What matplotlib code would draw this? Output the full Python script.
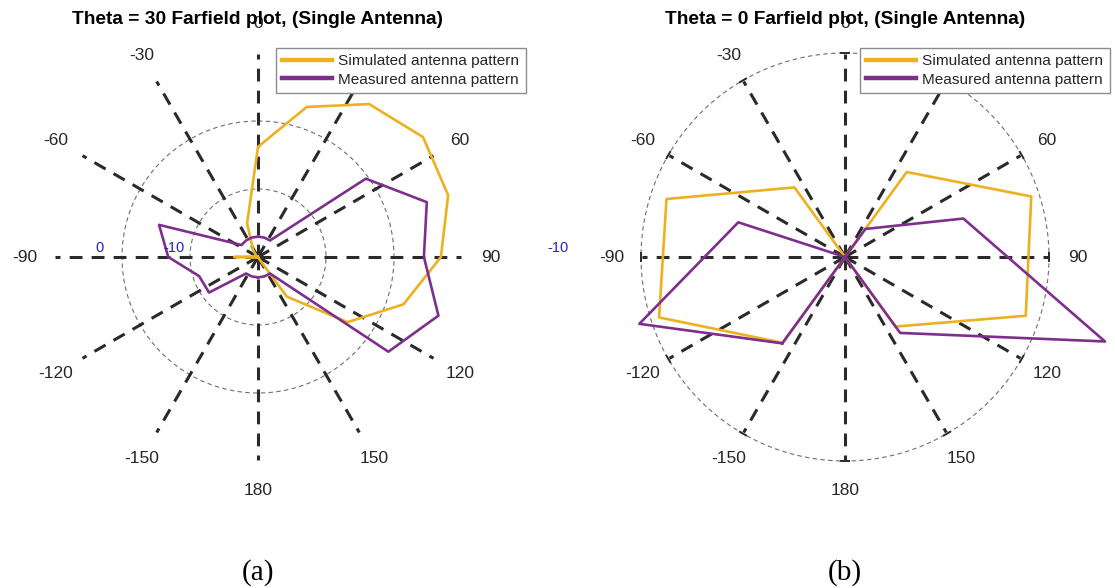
import numpy as np
import matplotlib
matplotlib.use('Agg')
import matplotlib.pyplot as plt

plt.rcParams['font.family'] = ['Liberation Sans', 'DejaVu Sans']

W, H = 1115, 588
R = 204  # px, radius of the plot area (rmax)

# (a) Theta = 30 cut, samples every 18 deg, values in dB
ang_a = [-180, -162, -144, -126, -108, -90, -72, -54, -36, -18,
         0, 18, 36, 54, 72, 90, 108, 126, 144, 162]
sim_a = [-20, -20, -20, -20, -19.7, -16.5, -19.7, -19.7, -18.8, -14.8,
         -3.8, 3.2, 7.8, 10.0, 9.4, 6.9, 2.5, -3.7, -12.8, -19.9]
meas_a = [-17, -17, -17, -11.1, -10.9, -6.8, -4.7, -17, -17, -17,
          -17, -17, -17, -0.4, 6.1, 4.4, 7.9, 3.7, -17, -17]

# (b) Theta = 0 cut, samples every 36 deg
ang_b = [-144, -108, -72, -36, 0, 36, 72, 108, 144, 180]
sim_b = [-4.4, 8.75, 7.6, -7.35, -20, -4.55, 8.8, 7.95, -7.35, -20]
meas_b = [-4.3, 11.8, -3.5, -20, -20, -14.9, -1.7, 20.2, -6.2, -20]

spoke_angles = [0, 30, 60, 90, 120, 150, 180, 210, 240, 270, 300, 330]
# the 30 label sits under the legend in the original, so it is left out
label_angles = [0, 60, 90, 120, 150, 180, 210, 240, 270, 300, 330]
spoke_labels = ['0', '60', '90', '120', '150', '180',
                '-150', '-120', '-90', '-60', '-30']

rmin, rmax = -20, 10
yellow = '#EDB120'
purple = '#7E2F8E'
txt = '#262626'

fig = plt.figure(figsize=(W / 100, H / 100), dpi=100)


def closed(a, v):
    a = np.deg2rad(list(a) + [a[0]])
    return a, list(v) + [v[0]]


def panel(cx, cy, ang, sim, meas, rings, title, leg_x, end_ticks):
    ax = fig.add_axes([(cx - R) / W, (H - cy - R) / H, 2 * R / W, 2 * R / H],
                      projection='polar')
    ax.set_theta_zero_location('N')
    ax.set_theta_direction(-1)
    ax.set_rlim(rmin, rmax)
    ax.set_axis_off()

    full = np.linspace(0, 2 * np.pi, 361)
    for rv in rings:
        ax.plot(full, np.full(full.size, rv), color='#6e6e6e', lw=0.8,
                dashes=(4, 3), clip_on=False)

    for a in spoke_angles:
        t = np.deg2rad(a)
        ax.plot([t, t], [rmin, rmax - 0.2], color='#2a2a2a', lw=2.2,
                dashes=(4.2, 3), clip_on=False)
        if end_ticks:
            d = np.deg2rad(1.0)
            ax.plot([t - d, t + d], [rmax, rmax], color='#2a2a2a', lw=1.4,
                    clip_on=False)

    for a, lab in zip(label_angles, spoke_labels):
        ax.text(np.deg2rad(a), 14.3, lab, ha='center', va='center',
                fontsize=12.5, color=txt)

    t, v = closed(ang, sim)
    l1, = ax.plot(t, v, color=yellow, lw=1.9, clip_on=False, zorder=4,
                  label='Simulated antenna pattern')
    t, v = closed(ang, meas)
    l2, = ax.plot(t, v, color=purple, lw=1.9, clip_on=False, zorder=4,
                  label='Measured antenna pattern')

    leg = ax.legend(handles=[l1, l2], loc='upper left',
                    bbox_to_anchor=(leg_x / W, 1 - 48 / H),
                    bbox_transform=fig.transFigure, borderaxespad=0,
                    fancybox=False, framealpha=1, edgecolor='#8c8c8c',
                    fontsize=11.1, handlelength=3.2, handletextpad=0.45,
                    borderpad=0.4, labelspacing=0.3, labelcolor=txt)
    leg.get_frame().set_linewidth(1.0)
    for ln in leg.get_lines():
        ln.set_linewidth(3.2)
    leg.set_zorder(10)

    fig.text(cx / W, 1 - 20 / H, title, ha='center', va='center',
             fontsize=13.8, fontweight='bold', color='black')
    return ax


panel(258, 257, ang_a, sim_a, meas_a, [-10, 0],
      'Theta = 30 Farfield plot, (Single Antenna)', 276, False)
panel(845, 257, ang_b, sim_b, meas_b, [10],
      'Theta = 0 Farfield plot, (Single Antenna)', 860, True)

# radial tick labels as they appear in the figure
blue = '#2020d0'
fig.text(100 / W, 1 - 248 / H, '0', ha='center', va='center', fontsize=10.5, color=blue)
fig.text(174 / W, 1 - 248 / H, '-10', ha='center', va='center', fontsize=10.5, color=blue)
fig.text(558 / W, 1 - 248 / H, '-10', ha='center', va='center', fontsize=10.5, color=blue)

fig.text(258 / W, 1 - 573 / H, '(a)', ha='center', va='center', fontsize=21,
         family='Liberation Serif')
fig.text(845 / W, 1 - 573 / H, '(b)', ha='center', va='center', fontsize=21,
         family='Liberation Serif')

fig.savefig('out.png', dpi=100, facecolor='white')
